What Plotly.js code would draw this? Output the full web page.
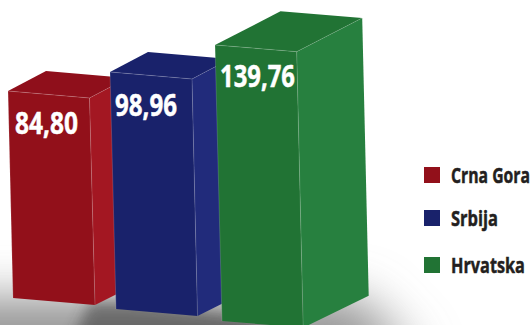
<!DOCTYPE html>
<html>
<head>
<meta charset="utf-8">
<script src="https://cdn.plot.ly/plotly-3.0.1.min.js"></script>
<style>html,body{margin:0;padding:0;background:#fff;overflow:hidden}#chart{width:532px;height:325px}</style>
</head>
<body>
<div id="chart"></div>
<script>
// Values per country
const categories = ['Crna Gora', 'Srbija', 'Hrvatska'];
const values = [84.80, 98.96, 139.76];

// Face colours per bar
const frontColors = ['#92101a', '#19226b', '#217334'];
const sideColors = ['#a31722', '#212b7b', '#27803f'];
const topColors = ['#8f0f1b', '#19226b', '#217334'];

// Perspective of each box: front-left foot, pixels per unit, face offsets
const footX = [13, 116, 222];
const footY = [298, 309, 321];
const unitPx = [2.441, 2.395, 1.975];
const leanX = [-5, -6, -7];          // top-left corner relative to foot
const widthX = [81.5, 82, 81.7];     // front face, left to right at the top
const widthY = [7, 7, 6.7];
const footSkew = [1, 0, 0];          // extra width at the foot
const depthX = [38, 38, 65.5];       // receding edge
const depthY = [-20, -20, -33.7];
const labelY = [126.5, 108.5, 79.5];
const labelX = [46.5, 146, 257.5];
const labelWidth = [63, 62, 75];

// Legend rows
const legendY = [175, 218, 265];
const captionDrop = 2.5;
const legendWidth = [79, 47, 74];

const traces = [];
function poly(xs, ys, color) {
  traces.push({type: 'scatter', mode: 'lines', x: [...xs, xs[0]], y: [...ys, ys[0]],
    fill: 'toself', fillcolor: color, line: {width: 0}, hoverinfo: 'skip', showlegend: false});
}
function edge(xs, ys, alpha) {
  traces.push({type: 'scatter', mode: 'lines', x: xs, y: ys,
    line: {width: 0.8, color: 'rgba(255,255,255,' + alpha + ')'}, hoverinfo: 'skip', showlegend: false});
}

categories.forEach((name, i) => {
  const blX = footX[i], blY = footY[i];
  const tlX = blX + leanX[i], tlY = blY - values[i] * unitPx[i];
  const trX = tlX + widthX[i], trY = tlY + widthY[i];
  const brX = blX + widthX[i] + footSkew[i] - 0.5, brY = blY + widthY[i];
  const dx = depthX[i], dy = depthY[i];
  const sideFootX = brX + dx * 1.0, sideFootY = brY + dy * 0.95;
  poly([trX, trX + dx, sideFootX, brX], [trY, trY + dy, sideFootY, brY], sideColors[i]);
  poly([tlX, tlX + dx, trX + dx, trX], [tlY, tlY + dy, trY + dy, trY], topColors[i]);
  poly([blX, tlX, trX, brX], [blY, tlY, trY, brY], frontColors[i]);
  edge([tlX, trX], [tlY, trY], 0.22);
  edge([trX, brX], [trY, brY], 0.2);
  edge([trX, trX + dx], [trY, trY + dy], 0.18);
  edge([tlX, blX], [tlY, blY], 0.2);
});

const textFamily = '"Open Sans", "Noto Sans", sans-serif';

// Value labels on the front faces
traces.push({type: 'scatter', mode: 'text', x: labelX, y: labelY,
  text: values.map(v => v.toFixed(2).replace('.', ',')),
  textposition: 'middle center', cliponaxis: false, hoverinfo: 'skip', showlegend: false,
  textfont: {family: textFamily, size: 31, color: '#ffffff', weight: 700}});

// Legend captions
traces.push({type: 'scatter', mode: 'text', x: categories.map(() => 451), y: legendY.map(y => y + captionDrop),
  text: categories, textposition: 'middle right', cliponaxis: false, hoverinfo: 'skip', showlegend: false,
  textfont: {family: textFamily, size: 22, color: '#231f20', weight: 700}});

// Soft floor shadow behind the boxes: a wide pale pool and a darker core at the feet
const shadowSvg = '<svg xmlns="http://www.w3.org/2000/svg" width="532" height="325">' +
  '<defs><filter id="w" x="-30%" y="-100%" width="160%" height="300%"><feGaussianBlur stdDeviation="25"/></filter>' +
  '<filter id="n" x="-30%" y="-100%" width="160%" height="300%"><feGaussianBlur stdDeviation="7"/></filter></defs>' +
  '<polygon points="-60,300 360,300 420,365 -60,365" fill="#8a8a8a" filter="url(#w)"/>' +
  '<polygon points="90,302 130,302 240,316 310,345 70,345" fill="#333333" opacity="0.5" filter="url(#n)"/></svg>';

const shapes = categories.map((name, i) => ({type: 'rect', xref: 'x', yref: 'y',
  x0: 424, x1: 440, y0: legendY[i] - 8, y1: legendY[i] + 8,
  fillcolor: frontColors[i], line: {width: 0}}));

// Squeeze the captions horizontally to the condensed widths, keeping their anchors
function condense() {
  const nodes = document.querySelectorAll('#chart .scatterlayer .trace .textpoint text');
  const widths = [...labelWidth, ...legendWidth];
  nodes.forEach((node, i) => {
    const x = parseFloat(node.getAttribute('x'));
    const s = widths[i] / node.getComputedTextLength();
    node.setAttribute('transform', 'translate(' + x + ',0) scale(' + s + ',1) translate(' + (-x) + ',0)');
    node.setAttribute('stroke', node.style.fill);
    node.setAttribute('stroke-width', '0.5');
  });
}

Plotly.newPlot('chart', traces, {
  width: 532, height: 325,
  margin: {l: 0, r: 0, t: 0, b: 0},
  paper_bgcolor: '#ffffff', plot_bgcolor: 'rgba(0,0,0,0)',
  showlegend: false,
  xaxis: {range: [0, 532], visible: false, fixedrange: true},
  yaxis: {range: [325, 0], visible: false, fixedrange: true},
  shapes,
  images: [{source: 'data:image/svg+xml;base64,' + btoa(shadowSvg), xref: 'paper', yref: 'paper',
    x: 0, y: 1, sizex: 1, sizey: 1, xanchor: 'left', yanchor: 'top', sizing: 'stretch', layer: 'below'}]
}, {displayModeBar: false, staticPlot: true}).then(condense);
</script>
</body>
</html>
